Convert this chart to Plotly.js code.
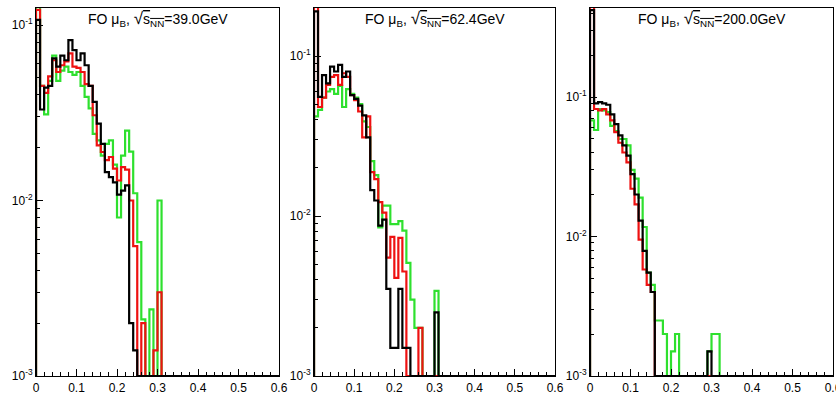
<!DOCTYPE html>
<html><head><meta charset="utf-8">
<script src="https://cdn.plot.ly/plotly-3.0.1.min.js"></script>
<style>html,body{margin:0;padding:0;background:#fff}#chart{width:836px;height:398px}</style>
</head><body><div id="chart"></div>
<script>
// bin width 0.01, x from 0 to 0.6; values per bin starting at x = 0
const binWidth = 0.01;
const xMax = 0.6;
const energies = ['39.0', '62.4', '200.0'];

const green39 = [0.13, 0.045, 0.031, 0.048, 0.067, 0.048, 0.055, 0.058, 0.054, 0.052, 0.054, 0.045, 0.039, 0.0335, 0.024, 0.022, 0.018, 0.021, 0.022, 0.016, 0.008, 0.018, 0.025, 0.019, 0.011, 0.0058, 0.0021, 0, 0.0024, 0, 0.0100, 0];
const red39   = [0.122, 0.045, 0.041, 0.051, 0.063, 0.054, 0.059, 0.062, 0.069, 0.058, 0.057, 0.054, 0.046, 0.045, 0.0306, 0.0206, 0.0189, 0.017, 0.0177, 0.0152, 0.013, 0.0155, 0.015, 0.0100, 0.0055, 0, 0.0020, 0, 0, 0.0014, 0.0030, 0];
const black39 = [0.107, 0.033, 0.044, 0.045, 0.0645, 0.058, 0.067, 0.063, 0.082, 0.072, 0.063, 0.069, 0.059, 0.045, 0.0365, 0.0274, 0.021, 0.0145, 0.0136, 0.0127, 0.0108, 0.0114, 0.0122, 0.0020, 0.0014, 0, 0, 0, 0, 0, 0, 0];

const green62 = [0.042, 0.046, 0.055, 0.06, 0.062, 0.058, 0.065, 0.048, 0.062, 0.058, 0.055, 0.05, 0.039, 0.036, 0.022, 0.018, 0.0085, 0.0116, 0.0116, 0.0089, 0.0089, 0.0093, 0.0081, 0.0051, 0.0030, 0.0020, 0.0020, 0, 0, 0, 0.0034, 0];
const red62   = [0.21, 0.048, 0.055, 0.066, 0.074, 0.076, 0.066, 0.078, 0.074, 0.057, 0.053, 0.045, 0.031, 0.042, 0.0188, 0.017, 0.0122, 0.0105, 0.0055, 0.0074, 0.0041, 0.0073, 0.0045, 0, 0, 0, 0.0020, 0, 0, 0, 0, 0];
const black62 = [0.19, 0.0556, 0.076, 0.0674, 0.0857, 0.08, 0.088, 0.074, 0.08, 0.057, 0.054, 0.049, 0.0426, 0.031, 0.0145, 0.0125, 0.0087, 0.0095, 0.0035, 0.0015, 0.0015, 0.0035, 0.0015, 0.0015, 0, 0, 0, 0, 0, 0, 0.0025, 0];

const green200 = [0.068, 0.058, 0.082, 0.08, 0.078, 0.062, 0.057, 0.05, 0.05, 0.045, 0.03, 0.026, 0.019, 0.0117, 0.0055, 0.0045, 0.0025, 0.0025, 0.002, 0, 0.0015, 0.002, 0, 0, 0, 0, 0, 0, 0, 0.0015, 0.002, 0.002];
const red200   = [0.45, 0.082, 0.08, 0.082, 0.075, 0.068, 0.056, 0.047, 0.04, 0.034, 0.022, 0.017, 0.0095, 0.0058, 0.0045, 0.004, 0, 0, 0, 0, 0, 0, 0, 0, 0, 0, 0, 0, 0, 0, 0, 0];
const black200 = [0.42, 0.09, 0.092, 0.09, 0.088, 0.075, 0.064, 0.053, 0.045, 0.038, 0.028, 0.02, 0.013, 0.0079, 0.0055, 0.004, 0, 0, 0, 0, 0, 0, 0, 0, 0, 0, 0, 0, 0, 0.0015, 0, 0];

const yTickVals = [0.001, 0.01, 0.1];
const yTickText = ['10<sup>-3</sup>', '10<sup>-2</sup>', '10<sup>-1</sup>'];
const xTickVals = [0, 0.1, 0.2, 0.3, 0.4, 0.5, 0.6];
const xTickText = ['0', '0.1', '0.2', '0.3', '0.4', '0.5', '0.6'];

const yFloor = 0.001;
const colors = {green: '#2ee02e', red: '#ee1111', black: '#000000'};

function stepTrace(vals, color, idx) {
  const x = [0], y = [yFloor];
  vals.forEach((v, i) => { x.push(i * binWidth); y.push(v > 0 ? v : yFloor); });
  x.push(vals.length * binWidth); y.push(yFloor);
  x.push(xMax); y.push(yFloor);
  const s = idx === 0 ? '' : String(idx + 1);
  return {type: 'scatter', mode: 'lines', x: x, y: y, xaxis: 'x' + s, yaxis: 'y' + s,
          line: {shape: 'hv', color: color, width: 2.2}, hoverinfo: 'skip', showlegend: false};
}

const panels = [[green39, red39, black39], [green62, red62, black62], [green200, red200, black200]];
const data = [];
panels.forEach((p, i) => {
  data.push(stepTrace(p[0], colors.green, i));
  data.push(stepTrace(p[1], colors.red, i));
  data.push(stepTrace(p[2], colors.black, i));
});

const W = 836, H = 398;
const xDomPx = [[36, 279], [314, 555], [590, 833]];
const yTopPx = 8, yBotPx = 376;
const yTops = [-0.903, -0.70, -0.362];
const minorVals = [];
[0.001, 0.01, 0.1].forEach(d => { for (let k = 2; k <= 9; k++) minorVals.push(d * k); });

const font = {family: 'Liberation Sans, Arial, sans-serif', color: '#000'};
const layout = {
  width: W, height: H, margin: {l: 0, r: 0, t: 0, b: 0},
  paper_bgcolor: '#fff', plot_bgcolor: '#fff', showlegend: false,
  font: Object.assign({size: 12}, font),
  annotations: []
};
const yDom = [(H - yBotPx) / H, (H - yTopPx) / H];
for (let i = 0; i < 3; i++) {
  const s = i === 0 ? '' : String(i + 1);
  layout['xaxis' + s] = {
    domain: [xDomPx[i][0] / W, xDomPx[i][1] / W], anchor: 'y' + s, range: [0, xMax],
    tickmode: 'array', tickvals: xTickVals, ticktext: xTickText,
    ticks: 'inside', ticklen: 7, tickwidth: 1, tickcolor: '#000',
    minor: {dtick: 0.02, tick0: 0, ticks: 'inside', ticklen: 4, tickwidth: 1, tickcolor: '#000'},
    showline: true, mirror: true, linecolor: '#000', linewidth: 1,
    showgrid: false, zeroline: false, fixedrange: true,
    ticklabeloverflow: 'allow', ticklabelstandoff: 1,
    tickfont: Object.assign({size: 12}, font)
  };
  layout['yaxis' + s] = {
    domain: yDom, anchor: 'x' + s, type: 'log', range: [-3, yTops[i]],
    tickmode: 'array', tickvals: yTickVals, ticktext: yTickText,
    ticks: 'inside', ticklen: 7, tickwidth: 1, tickcolor: '#000',
    minor: {tickmode: 'array', tickvals: minorVals, ticks: 'inside', ticklen: 4, tickwidth: 1, tickcolor: '#000'},
    showline: true, mirror: true, linecolor: '#000', linewidth: 1,
    showgrid: false, zeroline: false, fixedrange: true,
    tickfont: Object.assign({size: 12}, font)
  };
  layout.annotations.push({
    xref: 'x' + s + ' domain', yref: 'paper', x: 0.5, y: (H - yTopPx + 1) / H,
    xanchor: 'center', yanchor: 'top', showarrow: false,
    text: 'FO μ<sub>B</sub>, <span style="font-size:17px">√</span><span style="text-decoration:overline">s<sub>NN</sub></span>=' + energies[i] + 'GeV',
    font: Object.assign({size: 14}, font)
  });
}
Plotly.newPlot('chart', data, layout, {staticPlot: true});
</script>
</body></html>
